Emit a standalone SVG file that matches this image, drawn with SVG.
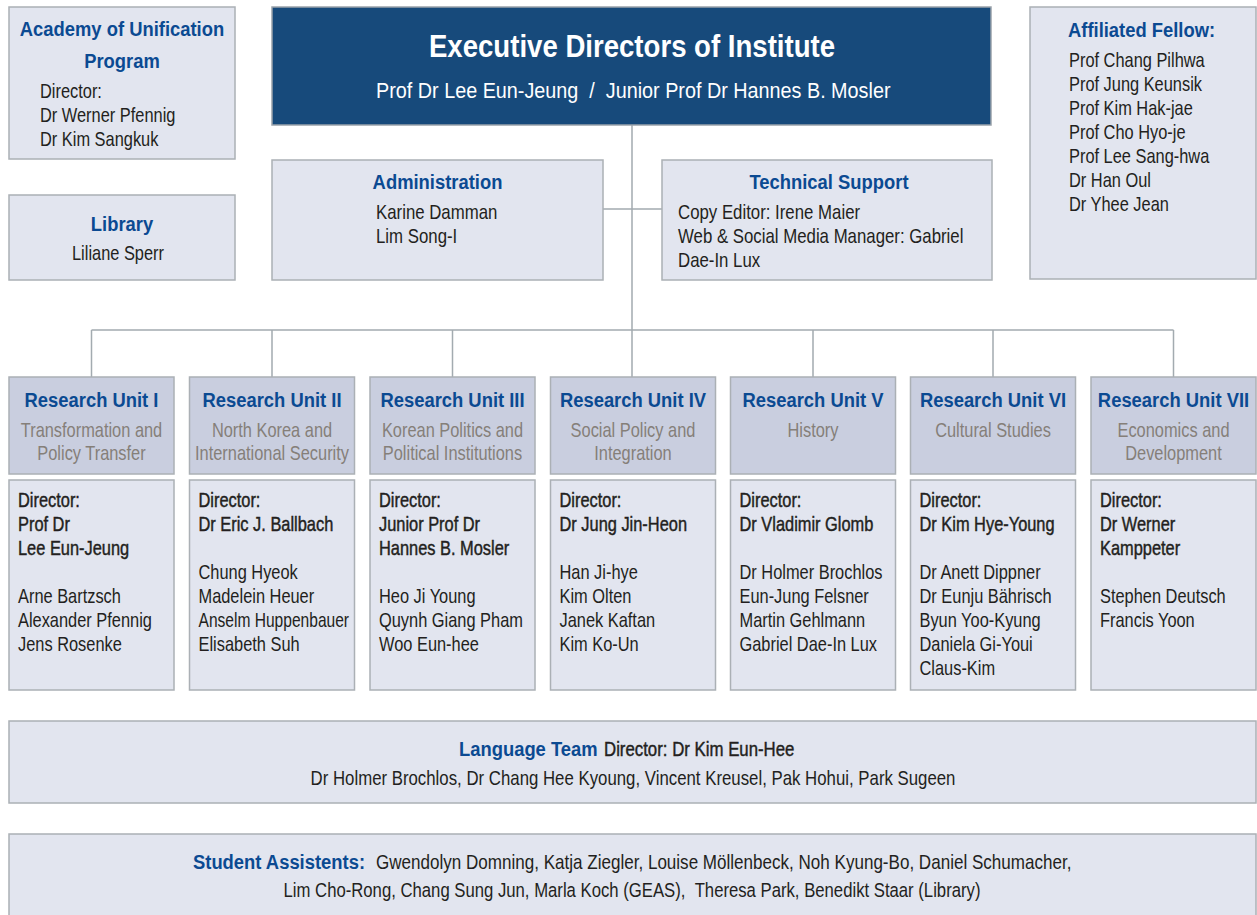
<svg xmlns="http://www.w3.org/2000/svg" width="1257" height="915" viewBox="0 0 1257 915">
<style>
text{font-family:"Liberation Sans",Arial,sans-serif;font-size:20.5px}
.bl{font-weight:bold;fill:#0b4a92;font-size:21px}
.r{fill:#231f20}
.m{fill:#231f20;stroke:#231f20;stroke-width:0.45}
.g{fill:#857f79}
.w{fill:#ffffff}
.box{fill:#e2e5ef;stroke:#abb0b5;stroke-width:1.5}
.hd{fill:#c9cedf;stroke:#abb0b5;stroke-width:1.5}
.ex{fill:#174a7b;stroke:#9aa3ab;stroke-width:1.5}
.c{fill:none;stroke:#a3abb0;stroke-width:1.5}
.mid{text-anchor:middle}
</style>
<rect width="1257" height="915" fill="#ffffff"/>

<g id="connectors">
<path class="c" d="M632 125V330M603 209H662M91.5 330H1173.5M91.5 330V377M272 330V377M452.5 330V377M632 330V377M813 330V377M993 330V377M1173.5 330V377"/>
</g>

<g id="academy">
<rect class="box" x="9" y="7" width="226" height="152"/>
<text class="bl mid" transform="translate(122,36) scale(.876,1)">Academy of Unification</text>
<text class="bl mid" transform="translate(122,68) scale(.876,1)">Program</text>
<text class="r" transform="translate(40,98) scale(.8,1)"><tspan x="0" y="0">Director:</tspan><tspan x="0" y="24">Dr Werner Pfennig</tspan><tspan x="0" y="48">Dr Kim Sangkuk</tspan></text>
</g>

<g id="library">
<rect class="box" x="9" y="195" width="226" height="85"/>
<text class="bl mid" transform="translate(122,231) scale(.876,1)">Library</text>
<text class="r mid" transform="translate(118,260) scale(.8,1)">Liliane Sperr</text>
</g>

<g id="executive">
<rect class="ex" x="272" y="7" width="719" height="118"/>
<text class="w mid" style="font-weight:bold;font-size:31px" transform="translate(632,57) scale(.89,1)">Executive Directors of Institute</text>
<text class="w" style="font-size:22px" transform="translate(376,98) scale(.9,1)">Prof Dr Lee Eun-Jeung &#160;/ &#160;Junior Prof Dr Hannes B. Mosler</text>
</g>

<g id="administration">
<rect class="box" x="272" y="160" width="331" height="120"/>
<text class="bl mid" transform="translate(437.5,189) scale(.876,1)">Administration</text>
<text class="r" transform="translate(376,219) scale(.82,1)"><tspan x="0" y="0">Karine Damman</tspan><tspan x="0" y="24">Lim Song-I</tspan></text>
</g>

<g id="technical">
<rect class="box" x="662" y="160" width="330" height="120"/>
<text class="bl mid" transform="translate(829,189) scale(.876,1)">Technical Support</text>
<text class="r" transform="translate(678,219) scale(.82,1)"><tspan x="0" y="0">Copy Editor: Irene Maier</tspan><tspan x="0" y="24">Web &amp; Social Media Manager: Gabriel</tspan><tspan x="0" y="48">Dae-In Lux</tspan></text>
</g>

<g id="affiliated">
<rect class="box" x="1030" y="7" width="226" height="272"/>
<text class="bl" transform="translate(1068,37) scale(.876,1)">Affiliated Fellow:</text>
<text class="r" transform="translate(1069,67) scale(.8,1)"><tspan x="0" y="0">Prof Chang Pilhwa</tspan><tspan x="0" y="24">Prof Jung Keunsik</tspan><tspan x="0" y="48">Prof Kim Hak-jae</tspan><tspan x="0" y="72">Prof Cho Hyo-je</tspan><tspan x="0" y="96">Prof Lee Sang-hwa</tspan><tspan x="0" y="120">Dr Han Oul</tspan><tspan x="0" y="144">Dr Yhee Jean</tspan></text>
</g>

<g id="unit1">
<rect class="hd" x="9" y="377" width="165" height="97"/>
<rect class="box" x="9" y="480" width="165" height="210"/>
<text class="bl mid" transform="translate(91.5,407) scale(.876,1)">Research Unit I</text>
<text class="g mid" transform="translate(91.5,437) scale(.8,1)"><tspan x="0" y="0">Transformation and</tspan><tspan x="0" y="23.5">Policy Transfer</tspan></text>
<text class="m" transform="translate(18,507) scale(.8,1)"><tspan x="0" y="0">Director:</tspan><tspan x="0" y="24">Prof Dr</tspan><tspan x="0" y="48">Lee Eun-Jeung</tspan></text>
<text class="r" transform="translate(18,603) scale(.8,1)"><tspan x="0" y="0">Arne Bartzsch</tspan><tspan x="0" y="24">Alexander Pfennig</tspan><tspan x="0" y="48">Jens Rosenke</tspan></text>
</g>

<g id="unit2">
<rect class="hd" x="189.5" y="377" width="165" height="97"/>
<rect class="box" x="189.5" y="480" width="165" height="210"/>
<text class="bl mid" transform="translate(272,407) scale(.876,1)">Research Unit II</text>
<text class="g mid" transform="translate(272,437) scale(.8,1)"><tspan x="0" y="0">North Korea and</tspan><tspan x="0" y="23.5">International Security</tspan></text>
<text class="m" transform="translate(198.5,507) scale(.8,1)"><tspan x="0" y="0">Director:</tspan><tspan x="0" y="24">Dr Eric J. Ballbach</tspan></text>
<text class="r" transform="translate(198.5,579) scale(.8,1)"><tspan x="0" y="0">Chung Hyeok</tspan><tspan x="0" y="24">Madelein Heuer</tspan></text>
<text class="r" transform="translate(198.5,627) scale(.76,1)">Anselm Huppenbauer</text>
<text class="r" transform="translate(198.5,651) scale(.8,1)">Elisabeth Suh</text>
</g>

<g id="unit3">
<rect class="hd" x="370" y="377" width="165" height="97"/>
<rect class="box" x="370" y="480" width="165" height="210"/>
<text class="bl mid" transform="translate(452.5,407) scale(.876,1)">Research Unit III</text>
<text class="g mid" transform="translate(452.5,437) scale(.8,1)"><tspan x="0" y="0">Korean Politics and</tspan><tspan x="0" y="23.5">Political Institutions</tspan></text>
<text class="m" transform="translate(379,507) scale(.8,1)"><tspan x="0" y="0">Director:</tspan><tspan x="0" y="24">Junior Prof Dr</tspan><tspan x="0" y="48">Hannes B. Mosler</tspan></text>
<text class="r" transform="translate(379,603) scale(.8,1)"><tspan x="0" y="0">Heo Ji Young</tspan><tspan x="0" y="24">Quynh Giang Pham</tspan><tspan x="0" y="48">Woo Eun-hee</tspan></text>
</g>

<g id="unit4">
<rect class="hd" x="550.5" y="377" width="165" height="97"/>
<rect class="box" x="550.5" y="480" width="165" height="210"/>
<text class="bl mid" transform="translate(633,407) scale(.876,1)">Research Unit IV</text>
<text class="g mid" transform="translate(633,437) scale(.8,1)"><tspan x="0" y="0">Social Policy and</tspan><tspan x="0" y="23.5">Integration</tspan></text>
<text class="m" transform="translate(559.5,507) scale(.8,1)"><tspan x="0" y="0">Director:</tspan><tspan x="0" y="24">Dr Jung Jin-Heon</tspan></text>
<text class="r" transform="translate(559.5,579) scale(.8,1)"><tspan x="0" y="0">Han Ji-hye</tspan><tspan x="0" y="24">Kim Olten</tspan><tspan x="0" y="48">Janek Kaftan</tspan><tspan x="0" y="72">Kim Ko-Un</tspan></text>
</g>

<g id="unit5">
<rect class="hd" x="730.5" y="377" width="165" height="97"/>
<rect class="box" x="730.5" y="480" width="165" height="210"/>
<text class="bl mid" transform="translate(813,407) scale(.876,1)">Research Unit V</text>
<text class="g mid" transform="translate(813,437) scale(.8,1)">History</text>
<text class="m" transform="translate(739.5,507) scale(.8,1)"><tspan x="0" y="0">Director:</tspan><tspan x="0" y="24">Dr Vladimir Glomb</tspan></text>
<text class="r" transform="translate(739.5,579) scale(.8,1)"><tspan x="0" y="0">Dr Holmer Brochlos</tspan><tspan x="0" y="24">Eun-Jung Felsner</tspan><tspan x="0" y="48">Martin Gehlmann</tspan><tspan x="0" y="72">Gabriel Dae-In Lux</tspan></text>
</g>

<g id="unit6">
<rect class="hd" x="910.5" y="377" width="165" height="97"/>
<rect class="box" x="910.5" y="480" width="165" height="210"/>
<text class="bl mid" transform="translate(993,407) scale(.876,1)">Research Unit VI</text>
<text class="g mid" transform="translate(993,437) scale(.8,1)">Cultural Studies</text>
<text class="m" transform="translate(919.5,507) scale(.8,1)"><tspan x="0" y="0">Director:</tspan><tspan x="0" y="24">Dr Kim Hye-Young</tspan></text>
<text class="r" transform="translate(919.5,579) scale(.8,1)"><tspan x="0" y="0">Dr Anett Dippner</tspan><tspan x="0" y="24">Dr Eunju Bährisch</tspan><tspan x="0" y="48">Byun Yoo-Kyung</tspan><tspan x="0" y="72">Daniela Gi-Youi</tspan><tspan x="0" y="96">Claus-Kim</tspan></text>
</g>

<g id="unit7">
<rect class="hd" x="1091" y="377" width="165" height="97"/>
<rect class="box" x="1091" y="480" width="165" height="210"/>
<text class="bl mid" transform="translate(1173.5,407) scale(.876,1)">Research Unit VII</text>
<text class="g mid" transform="translate(1173.5,437) scale(.8,1)"><tspan x="0" y="0">Economics and</tspan><tspan x="0" y="23.5">Development</tspan></text>
<text class="m" transform="translate(1100,507) scale(.8,1)"><tspan x="0" y="0">Director:</tspan><tspan x="0" y="24">Dr Werner</tspan><tspan x="0" y="48">Kamppeter</tspan></text>
<text class="r" transform="translate(1100,603) scale(.8,1)"><tspan x="0" y="0">Stephen Deutsch</tspan><tspan x="0" y="24">Francis Yoon</tspan></text>
</g>

<g id="language">
<rect class="box" x="9" y="721" width="1247" height="82"/>
<text class="bl" transform="translate(459,756) scale(.876,1)">Language Team</text>
<text class="m" transform="translate(604,756) scale(.82,1)">Director: Dr Kim Eun-Hee</text>
<text class="r mid" transform="translate(633,785) scale(.82,1)">Dr Holmer Brochlos, Dr Chang Hee Kyoung, Vincent Kreusel, Pak Hohui, Park Sugeen</text>
</g>

<g id="students">
<rect class="box" x="9" y="834" width="1247" height="90"/>
<text class="bl" transform="translate(193,869) scale(.876,1)">Student Assistents:</text>
<text class="r" transform="translate(376,869) scale(.832,1)">Gwendolyn Domning, Katja Ziegler, Louise Möllenbeck, Noh Kyung-Bo, Daniel Schumacher,</text>
<text class="r mid" transform="translate(632,897) scale(.815,1)">Lim Cho-Rong, Chang Sung Jun, Marla Koch (GEAS), &#160;Theresa Park, Benedikt Staar (Library)</text>
</g>
</svg>
